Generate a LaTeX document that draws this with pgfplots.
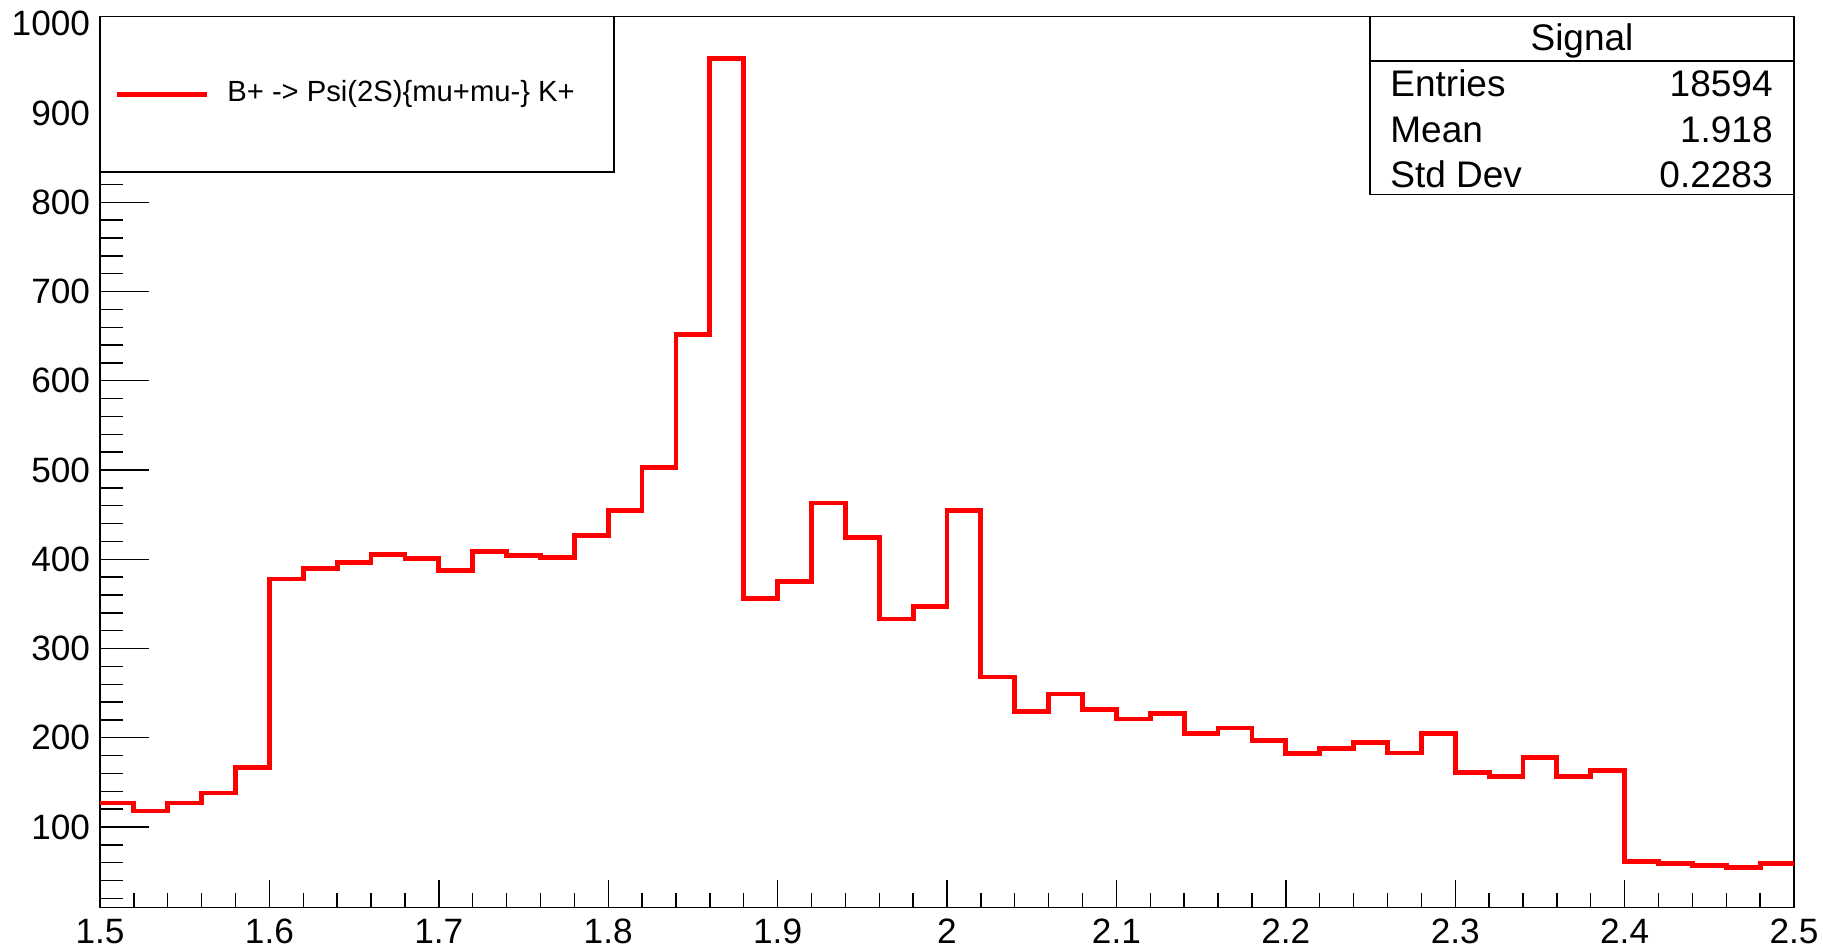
\documentclass[border=0pt]{standalone}
\usepackage{fontspec}
\setmainfont{Liberation Sans}
\usepackage{pgfplots}
\usepackage{pgfplotstable}
\pgfplotsset{compat=1.18}
\pgfplotstableread{
x y
1.50 127
1.52 118
1.54 127
1.56 138
1.58 167
1.60 378
1.62 390
1.64 396
1.66 405
1.68 401
1.70 387
1.72 409
1.74 404
1.76 402
1.78 427
1.80 455
1.82 503
1.84 652
1.86 961
1.88 356
1.90 375
1.92 463
1.94 424
1.96 333
1.98 347
2.00 455
2.02 268
2.04 229
2.06 249
2.08 232
2.10 221
2.12 227
2.14 205
2.16 211
2.18 197
2.20 182
2.22 188
2.24 195
2.26 183
2.28 205
2.30 161
2.32 157
2.34 178
2.36 157
2.38 163
2.40 61
2.42 59
2.44 57
2.46 55
2.48 59
2.50 59
}\histdata
\begin{document}
\begin{tikzpicture}
\begin{axis}[
  name=ax,
  at={(50pt,20.85pt)}, anchor=south west,
  scale only axis, width=847pt, height=445.3pt,
  xmin=1.5, xmax=2.5, ymin=10, ymax=1008,
  xtick={1.5,1.6,1.7,1.8,1.9,2,2.1,2.2,2.3,2.4,2.5},
  xticklabels={1.5,1.6,1.7,1.8,1.9,2,2.1,2.2,2.3,2.4,2.5},
  ytick={0,100,200,300,400,500,600,700,800,900,1000},
  minor x tick num=4, minor y tick num=4,
  tick align=inside, tick pos=left,
  axis line style={line width=0.7pt, black},
  xtick style={black, line width=0.7pt, /pgfplots/major tick length=13.5pt, /pgfplots/minor tick length=7pt},
  ytick style={black, line width=0.7pt, /pgfplots/major tick length=24.5pt, /pgfplots/minor tick length=11.7pt},
  ticklabel style={font=\fontsize{17.6}{21}\selectfont, inner sep=0pt},
  yticklabel style={xshift=-4.8pt},
  xticklabel style={yshift=-5.6pt},
  /pgf/number format/assume math mode=true,
  /pgf/number format/1000 sep={},
  scaled ticks=false,
]
\addplot[red, line width=2.4pt, const plot mark left, no marks, line join=miter] table[x=x,y=y]{\histdata};
\end{axis}
% legend box
\draw[line width=0.7pt, fill=white] (ax.north west) rectangle ([xshift=257pt,yshift=-77.65pt]ax.north west);
\draw[red, line width=2.5pt] ([xshift=8.5pt,yshift=-38.7pt]ax.north west) -- ++(45pt,0pt);
\node[anchor=west, font=\fontsize{14.6}{17}\selectfont, inner sep=0pt] at ([xshift=63.5pt,yshift=-38.7pt]ax.north west) {B+ -> Psi(2S)\{mu+mu-\} K+};
% stats box
\begin{scope}[every node/.style={font=\fontsize{18.5}{22}\selectfont, inner sep=0pt}]
\draw[line width=0.7pt, fill=white] ([xshift=-212pt]ax.north east) rectangle ([yshift=-89pt]ax.north east);
\draw[line width=0.7pt] ([xshift=-212pt,yshift=-22.15pt]ax.north east) -- ([yshift=-22.15pt]ax.north east);
\node[anchor=base] at ([xshift=-106pt,yshift=-17.1pt]ax.north east) {Signal};
\node[anchor=base west] at ([xshift=-202pt,yshift=-40.1pt]ax.north east) {Entries};
\node[anchor=base east] at ([xshift=-10.5pt,yshift=-40.1pt]ax.north east) {18594};
\node[anchor=base west] at ([xshift=-202pt,yshift=-62.8pt]ax.north east) {Mean};
\node[anchor=base east] at ([xshift=-10.5pt,yshift=-62.8pt]ax.north east) {1.918};
\node[anchor=base west] at ([xshift=-202pt,yshift=-85.3pt]ax.north east) {Std Dev};
\node[anchor=base east] at ([xshift=-10.5pt,yshift=-85.3pt]ax.north east) {0.2283};
\end{scope}
\pgfresetboundingbox
\useasboundingbox (0,0) rectangle (911.5pt,474.5pt);
\end{tikzpicture}
\end{document}
